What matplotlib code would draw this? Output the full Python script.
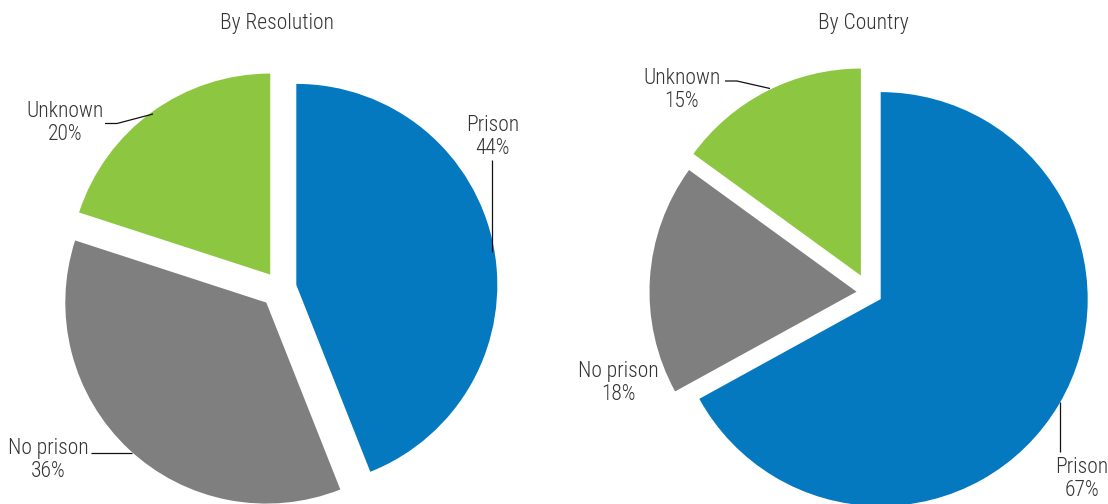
#!/usr/bin/env python3
"""Two exploded pies: prison outcomes by resolution and by country."""

import matplotlib
matplotlib.use("Agg")
import matplotlib.pyplot as plt  # noqa: E402
from matplotlib import font_manager  # noqa: E402

# data
categories = ["Prison", "No prison", "Unknown"]
by_resolution = [44, 36, 20]
by_country = [67, 18, 15]
subtitles = ["By Resolution", "By Country"]

COLORS = ["#0579C0", "#7F7F7F", "#8DC641"]
TEXT = "#333333"

W, H = 1108, 504


def pick_font():
    names = {f.name for f in font_manager.fontManager.ttflist}
    for name in ["Liberation Sans Narrow", "Roboto Condensed", "Roboto", "DejaVu Sans"]:
        if name in names:
            return name
    return "DejaVu Sans"


FONT = pick_font()
FS = 15.5


def py(y):
    """pixel row (from top) -> data y"""
    return H - y


def label(ax, x, y, name, value):
    ax.text(x, py(y), f"{name}\n{value}%", ha="center", va="center",
            fontsize=FS, family=FONT, weight="light", color=TEXT,
            linespacing=1.12)


def leader(ax, xs, ys):
    ax.plot(xs, [py(v) for v in ys], color="#111111", lw=0.9,
            solid_capstyle="butt")


def main() -> None:
    dpi = 100
    fig = plt.figure(figsize=(W / dpi, H / dpi), dpi=dpi)
    ax = fig.add_axes([0, 0, 1, 1])
    wp = dict(linewidth=0)

    # left pie (explode given in pixels, pie radius in pixels)
    r1 = 201
    ax.pie(by_resolution, colors=COLORS, startangle=90, counterclock=False,
           explode=[16.6, 20, 16.6], center=(280, py(288)), radius=r1,
           wedgeprops=wp, frame=True)
    # right pie
    r2 = 207
    ax.pie(by_country, colors=COLORS, startangle=90, counterclock=False,
           explode=[13, 13, 19], center=(869.5, py(292.5)),
           radius=r2, wedgeprops=wp, frame=True)

    ax.set_xlim(0, W)
    ax.set_ylim(0, H)
    ax.set_aspect("equal")
    ax.axis("off")

    ax.text(276.5, py(23), subtitles[0], ha="center", va="center",
            fontsize=FS, family=FONT, weight="light", color=TEXT)
    ax.text(863.5, py(23), subtitles[1], ha="center", va="center",
            fontsize=FS, family=FONT, weight="light", color=TEXT)

    # left labels
    label(ax, 493, 137, categories[0], by_resolution[0])
    leader(ax, [492, 492], [160, 252])
    label(ax, 48, 460, categories[1], by_resolution[1])
    leader(ax, [91, 132], [452.5, 452.5])
    label(ax, 65, 123, categories[2], by_resolution[2])
    leader(ax, [105, 117, 153], [123.5, 123.5, 114])

    # right labels
    label(ax, 1082, 479, categories[0], by_country[0])
    leader(ax, [1060, 1060], [402, 452])
    label(ax, 618, 383, categories[1], by_country[1])
    label(ax, 682, 90, categories[2], by_country[2])
    leader(ax, [725, 737, 770], [81, 81, 88.5])

    fig.savefig("out.png", dpi=dpi, facecolor="white")
    plt.close(fig)


if __name__ == "__main__":
    main()
